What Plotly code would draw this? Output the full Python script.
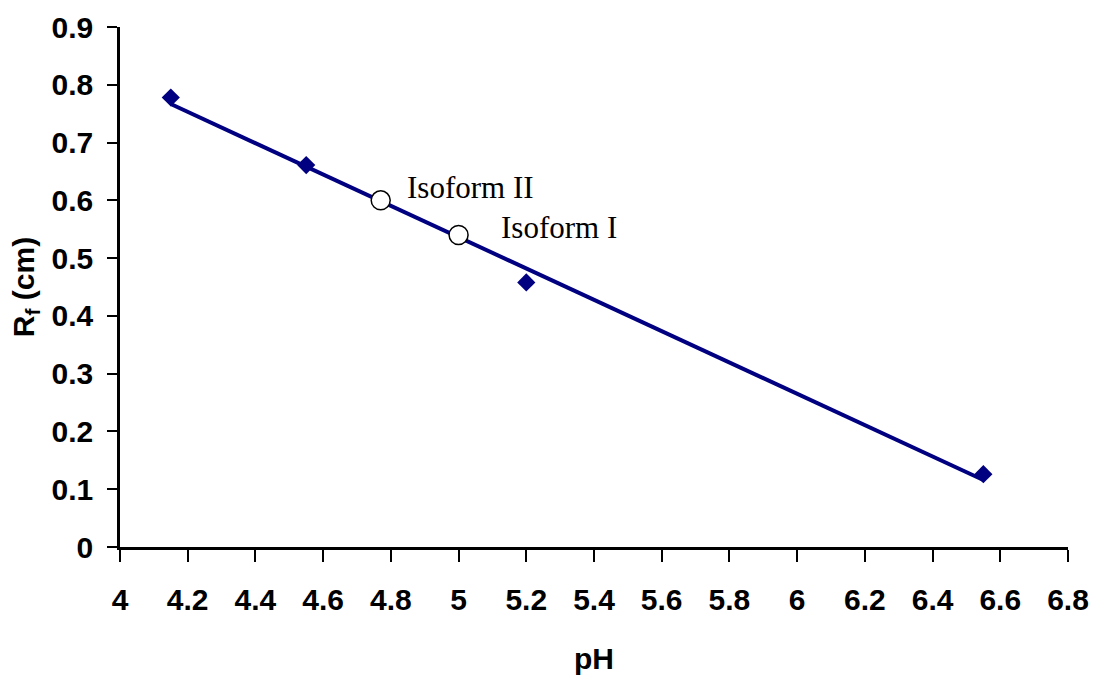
import numpy as np
import plotly.graph_objects as go

# Data
ph_std = [4.15, 4.55, 5.2, 6.55]
rf_std = [0.778, 0.661, 0.458, 0.126]

iso_names = ["Isoform II", "Isoform I"]
iso_ph = [4.77, 5.0]
iso_rf = [0.60, 0.54]

x_ticks = [4, 4.2, 4.4, 4.6, 4.8, 5, 5.2, 5.4, 5.6, 5.8, 6, 6.2, 6.4, 6.6, 6.8]
y_ticks = [0, 0.1, 0.2, 0.3, 0.4, 0.5, 0.6, 0.7, 0.8, 0.9]

NAVY = "#000080"
SANS = "Arial, Liberation Sans, sans-serif"
SERIF = "Times New Roman, Liberation Serif, serif"

# Linear trendline fitted through the standards
slope, intercept = np.polyfit(ph_std, rf_std, 1)
trend_x = [min(ph_std), max(ph_std)]
trend_y = [slope * v + intercept for v in trend_x]

fig = go.Figure()
fig.add_trace(go.Scatter(x=trend_x, y=trend_y, mode="lines",
                         line=dict(color=NAVY, width=4), showlegend=False,
                         hoverinfo="skip"))
fig.add_trace(go.Scatter(x=ph_std, y=rf_std, mode="markers",
                         marker=dict(symbol="diamond", size=14, color=NAVY),
                         showlegend=False))
fig.add_trace(go.Scatter(x=iso_ph, y=iso_rf, mode="markers",
                         marker=dict(symbol="circle", size=19, color="white",
                                     line=dict(color="black", width=1.5)),
                         showlegend=False))

label_shift = [(24, 13), (40, 8)]
for name, xv, yv, (dx, dy) in zip(iso_names, iso_ph, iso_rf, label_shift):
    fig.add_annotation(x=xv, y=yv, text=name, showarrow=False,
                       xanchor="left", yanchor="middle", xshift=dx, yshift=dy,
                       font=dict(family=SERIF, size=31, color="black"))

fig.add_annotation(xref="paper", yref="paper", x=0.5, y=-0.215, text="<b>pH</b>",
                   showarrow=False, xanchor="center", yanchor="middle",
                   font=dict(family=SANS, size=30, color="black"))
fig.add_annotation(xref="paper", yref="paper", x=-0.1, y=0.5,
                   text="<b>R<sub>f</sub> (cm)</b>", textangle=-90,
                   showarrow=False, xanchor="center", yanchor="middle",
                   font=dict(family=SANS, size=30, color="black"))

axis_common = dict(showgrid=False, zeroline=False, showline=True,
                   linecolor="black", linewidth=2.5, ticks="outside",
                   tickcolor="black", tickwidth=2, automargin=False,
                   tickfont=dict(family=SANS, size=30, color="black"))

fig.update_xaxes(range=[4, 6.8], tickvals=x_ticks,
                 ticktext=[f"<b>{v:g}</b>" for v in x_ticks],
                 ticklen=12, ticklabelstandoff=12, **axis_common)
fig.update_yaxes(range=[0, 0.9], tickvals=y_ticks,
                 ticktext=[f"<b>{v:g}</b>" for v in y_ticks],
                 ticklen=10, ticklabelstandoff=8, **axis_common)

fig.update_layout(width=1094, height=682, plot_bgcolor="white",
                  paper_bgcolor="white",
                  margin=dict(l=120, r=26, t=27, b=135, autoexpand=False))

fig.write_html("out.html")
